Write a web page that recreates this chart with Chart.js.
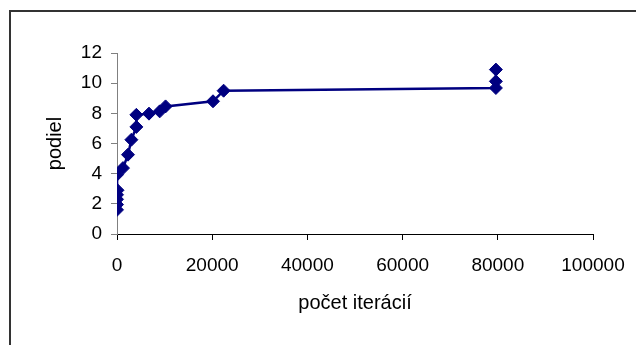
<!DOCTYPE html>
<html>
<head>
<meta charset="utf-8">
<script src="https://cdn.jsdelivr.net/npm/chart.js@4"></script>
<style>
  html, body { margin: 0; padding: 0; background: #fff; overflow: hidden; }
  #frame { position: absolute; left: 9px; top: 10px; width: 700px; height: 400px;
           border: 2px solid #333; box-sizing: border-box; }
  #wrap { position: absolute; left: 0; top: 0; width: 636px; height: 345px; }
</style>
</head>
<body>
<div id="frame"></div>
<div id="wrap"><canvas id="chart" width="636" height="345"></canvas></div>
<script>
// iterations vs. ratio, in drawing order (the line joins them in this order)
const iterations = [0, 0, 0, 0, 100, 0, 1260, 2310, 3020, 4070, 4070, 6720, 8970, 10200, 20170, 22400, 79600, 79600, 79600];
const ratios     = [1.6, 1.95, 2.3, 2.6, 2.9, 3.93, 4.37, 5.26, 6.25, 7.1, 7.9, 7.98, 8.13, 8.46, 8.8, 9.5, 9.68, 10.12, 10.9];
const xTicks = [0, 20000, 40000, 60000, 80000, 100000];
const yTicks = [0, 2, 4, 6, 8, 10, 12];

const navy = '#000080';
const tickFont = { family: 'Liberation Sans, Arial, sans-serif', size: 19 };
const titleFont = { family: 'Liberation Sans, Arial, sans-serif', size: 20 };

const points = iterations.map((x, i) => ({ x: x, y: ratios[i] }));

new Chart(document.getElementById('chart').getContext('2d'), {
  type: 'scatter',
  data: {
    datasets: [{
      data: points,
      showLine: true,
      borderColor: navy,
      borderWidth: 2.5,
      backgroundColor: navy,
      pointStyle: 'rectRot',
      pointRadius: 6.5,
      pointBorderWidth: 1,
      pointBorderColor: navy,
      pointBackgroundColor: navy,
      tension: 0
    }]
  },
  options: {
    responsive: false,
    animation: false,
    layout: { padding: { left: 43, top: 53, right: 43, bottom: 30 } },
    plugins: { legend: { display: false }, tooltip: { enabled: false } },
    scales: {
      x: {
        type: 'linear',
        min: xTicks[0],
        max: xTicks[xTicks.length - 1],
        afterBuildTicks: s => { s.ticks = xTicks.map(v => ({ value: v })); },
        afterFit: s => { s.height = 81; s.paddingLeft = 0; s.paddingRight = 0; },
        grid: { drawOnChartArea: false, drawTicks: true, tickLength: 6, color: '#000' },
        border: { color: '#000', width: 1 },
        ticks: { color: '#000', font: tickFont, padding: 14, maxRotation: 0, callback: v => String(v) },
        title: { display: true, text: 'počet iterácií', color: '#000', font: titleFont, padding: { top: 0, bottom: 0 } }
      },
      y: {
        min: yTicks[0],
        max: yTicks[yTicks.length - 1],
        afterBuildTicks: s => { s.ticks = yTicks.map(v => ({ value: v })); },
        afterFit: s => { s.width = 74; },
        grid: { drawOnChartArea: false, drawTicks: true, tickLength: 6, color: '#808080' },
        border: { color: '#808080', width: 1 },
        ticks: { color: '#000', font: tickFont, padding: 9, callback: v => String(v) },
        title: { display: true, text: 'podiel', color: '#000', font: titleFont, padding: { top: 0, bottom: 0 } }
      }
    }
  }
});
</script>
</body>
</html>
